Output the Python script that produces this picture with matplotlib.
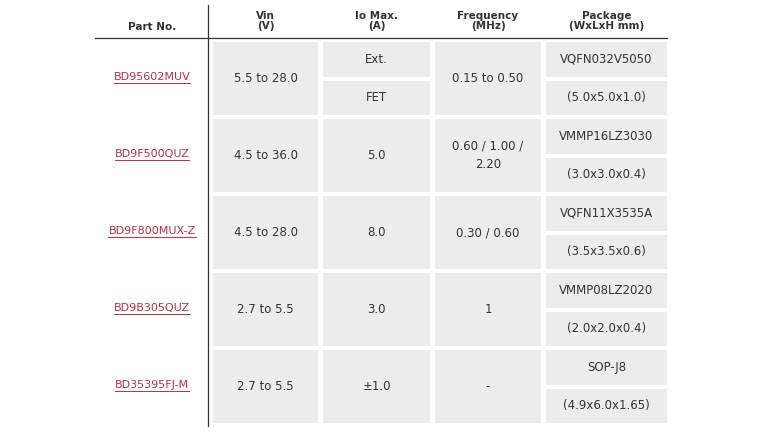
import matplotlib
matplotlib.use("Agg")
import matplotlib.pyplot as plt
from matplotlib.patches import Rectangle

headers = ["Part No.", "Vin\n(V)", "Io Max.\n(A)", "Frequency\n(MHz)", "Package\n(WxLxH mm)"]
parts = ["BD95602MUV", "BD9F500QUZ", "BD9F800MUX-Z", "BD9B305QUZ", "BD35395FJ-M"]
vin = ["5.5 to 28.0", "4.5 to 36.0", "4.5 to 28.0", "2.7 to 5.5", "2.7 to 5.5"]
io_max = [["Ext.", "FET"], ["5.0"], ["8.0"], ["3.0"], ["\u00b11.0"]]
freq = ["0.15 to 0.50", "0.60 / 1.00 /\n2.20", "0.30 / 0.60", "1", "-"]
pkg_name = ["VQFN032V5050", "VMMP16LZ3030", "VQFN11X3535A", "VMMP08LZ2020", "SOP-J8"]
pkg_size = ["(5.0x5.0x1.0)", "(3.0x3.0x0.4)", "(3.5x3.5x0.6)", "(2.0x2.0x0.4)", "(4.9x6.0x1.65)"]

W, H = 768, 432
fig = plt.figure(figsize=(W/100, H/100), dpi=100)
ax = fig.add_axes([0, 0, 1, 1])
ax.set_xlim(0, W); ax.set_ylim(H, 0); ax.axis("off")

cell = "#ececec"
red = "#b5333f"
fs = 8.5
cols = [(213, 318), (323, 430), (435, 541), (546, 667)]
row_top, row_h, gap = 42, 73, 4
part_x = 152

hx = [part_x] + [(a + b) / 2 for a, b in cols]
for i, h in enumerate(headers):
    if i == 0:
        ax.text(hx[i], 27, h, ha="center", va="center", fontsize=7.5, fontweight="semibold", color="#333")
    else:
        ax.text(hx[i], 21, h, ha="center", va="center", fontsize=7.5, fontweight="semibold",
                color="#333", linespacing=0.95)
ax.plot([95, 667], [38, 38], color="#333", lw=0.9)
ax.plot([208, 208], [5, 426], color="#333", lw=0.9)

def box(c, y0, y1, txt, size=fs):
    a, b = cols[c]
    ax.add_patch(Rectangle((a, y0), b - a, y1 - y0, color=cell, lw=0))
    ax.text((a + b) / 2, (y0 + y1) / 2, txt, ha="center", va="center",
            fontsize=size, color="#333", linespacing=1.6)

for r in range(len(parts)):
    y0 = row_top + r * (row_h + gap)
    y1 = y0 + row_h
    ym = (y0 + y1) / 2
    t = ax.text(part_x, ym - 2, parts[r], ha="center", va="center", fontsize=fs - 0.5,
                color=red)
    fig.canvas.draw()
    bb = t.get_window_extent().transformed(ax.transData.inverted())
    ax.plot([bb.x0, bb.x1], [bb.y0 + 1, bb.y0 + 1], color=red, lw=0.7)
    box(0, y0, y1, vin[r])
    if len(io_max[r]) == 2:
        box(1, y0, ym - gap / 2, io_max[r][0])
        box(1, ym + gap / 2, y1, io_max[r][1])
    else:
        box(1, y0, y1, io_max[r][0])
    box(2, y0, y1, freq[r])
    box(3, y0, ym - gap / 2, pkg_name[r])
    box(3, ym + gap / 2, y1, pkg_size[r])

fig.savefig("out.png", dpi=100, facecolor="white")
